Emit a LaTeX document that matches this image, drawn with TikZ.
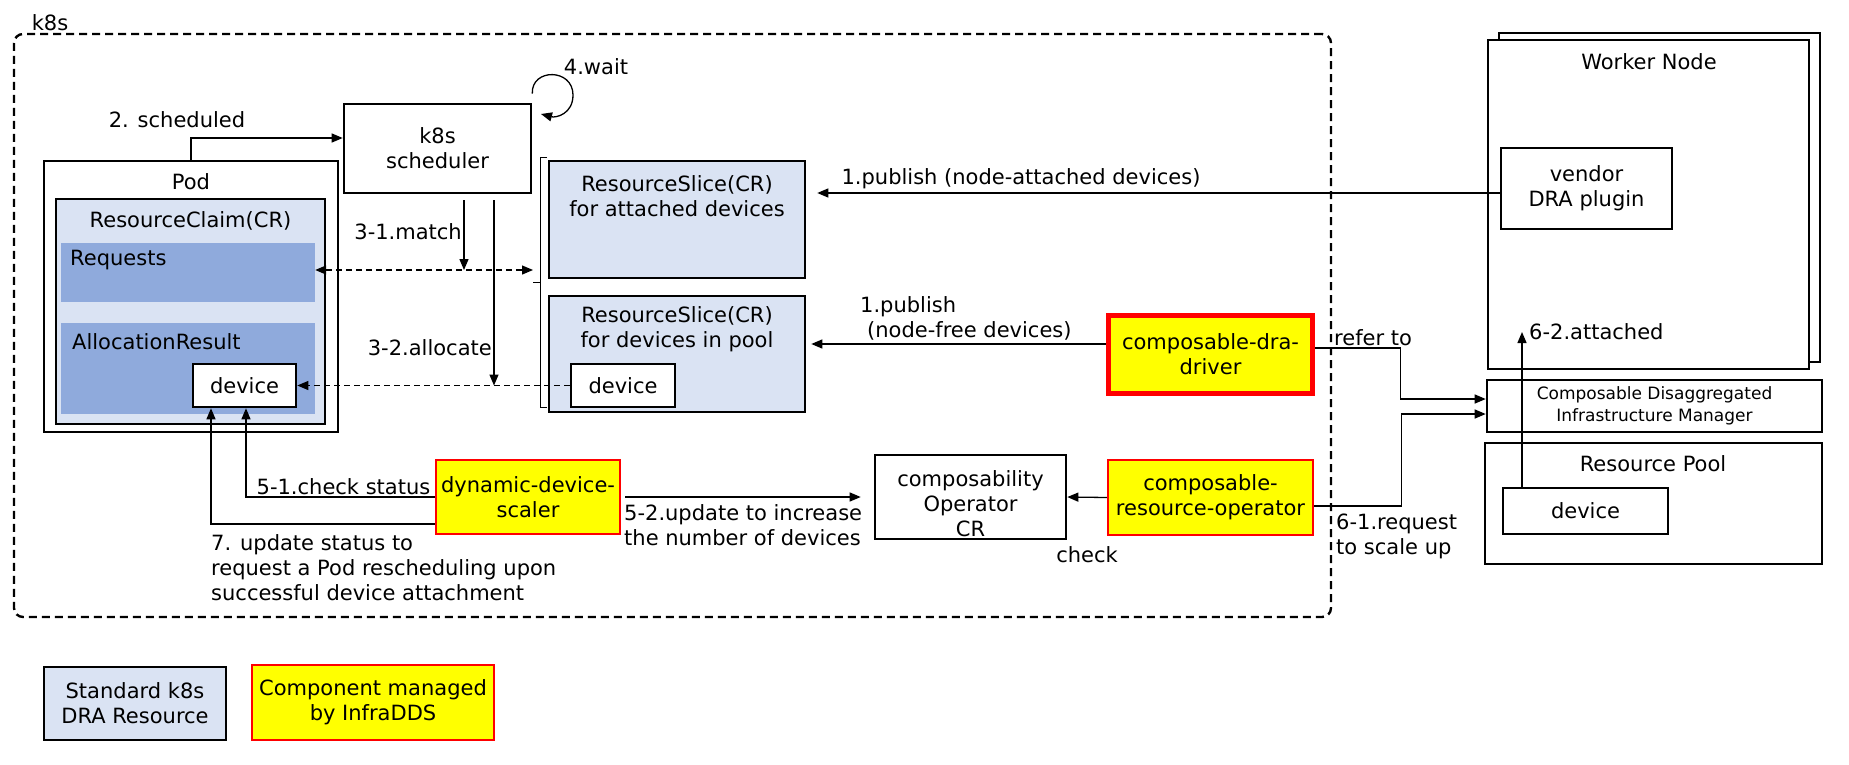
\documentclass[tikz,border=0pt]{standalone}
\usepackage{fontspec}
\setmainfont{DejaVu Sans}
\usetikzlibrary{arrows.meta}
\definecolor{drablue}{HTML}{DAE3F3}
\definecolor{reqblue}{HTML}{8FAADC}
\definecolor{ddsyellow}{HTML}{FFFF00}
\definecolor{ddsred}{HTML}{FF0000}
\tikzset{
  wh/.style 2 args={minimum width=#1pt, minimum height=#2pt},
  plainbox/.style={draw, line width=2.6pt, fill=white, inner sep=0pt, align=center},
  drabox/.style={plainbox, fill=drablue},
  innerbox/.style={fill=reqblue, inner sep=0pt},
  infrabox/.style={draw=ddsred, line width=2.4pt, fill=ddsyellow, inner sep=0pt, align=center},
  txt/.style={inner sep=0pt, align=left},
  arr/.style={line width=1.3pt, -{Triangle[length=11pt,width=9pt]}},
  dasharr/.style={line width=1.2pt, dash pattern=on 6pt off 4pt},
}

\begin{document}
\begin{tikzpicture}[x=1pt, y=-1pt, font=\fontsize{21}{25}\selectfont]
  \useasboundingbox (0,0) rectangle (1849,764);

  % k8s cluster
  \node[draw, dash pattern=on 8pt off 5pt, line width=2.4pt, rounded corners=9pt, wh={1317}{583}] (k8s) at (672.5,325.5) {};
  \node[txt] (k8slbl) at (50,23) {k8s};

  % Pod and its claim
  \node[plainbox, wh={294}{271}] (pod) at (191,296.5) {};
  \node[txt] (podlbl) at (191,182) {Pod};
  \node[drabox, wh={269}{225}] (claim) at (190.5,311.5) {};
  \node[txt] (claimlbl) at (190.5,221) {ResourceClaim(CR)};
  \node[innerbox, wh={254}{59}] (req) at (188,272.5) {};
  \node[txt, anchor=west] (reqlbl) at (70,260) {Requests};
  \node[innerbox, wh={254}{91}] (alloc) at (188,368.5) {};
  \node[txt, anchor=west] (alloclbl) at (72,342) {AllocationResult};
  \node[plainbox, wh={103}{43}] (adev) at (244.5,385.5) {device};

  % Scheduler
  \node[plainbox, wh={187}{89}] (sched) at (437.5,148.5) {k8s\\scheduler};

  % Resource slices
  \node[drabox, wh={256}{117}] (sliceA) at (677,219.5) {};
  \node[txt, align=center] (sliceAlbl) at (677,196) {ResourceSlice(CR)\\for attached devices};
  \node[drabox, wh={256}{116}] (sliceP) at (677,354) {};
  \node[txt, align=center] (slicePlbl) at (677,329) {ResourceSlice(CR)\\for devices in pool};
  \node[plainbox, wh={104}{43}] (pdev) at (623,385.5) {device};
  \draw[line width=1pt] (547,157) -- (540,157) -- (540,407) -- (547,407);
  \draw[line width=1pt] (540,282) -- (533,282);

  % InfraDDS components
  \node[infrabox, wh={184}{74}] (dds) at (528,497) {dynamic-device-\\scaler};
  \node[plainbox, wh={191}{84}] (cop) at (970.5,497) {};
  \node[txt, align=center] (coplbl) at (970.5,504) {composability\\Operator\\CR};
  \node[infrabox, line width=5.5pt, wh={204}{78}] (cdd) at (1210.5,354.5) {composable-dra-\\driver};
  \node[infrabox, wh={205}{75}] (cro) at (1210.5,497.5) {composable-\\resource-operator};

  % Worker node
  \node[plainbox, wh={321}{329}] (wnback) at (1659.5,197.5) {};
  \node[plainbox, wh={321}{329}] (wn) at (1648.5,204.5) {};
  \node[txt] (wnlbl) at (1649,62) {Worker Node};
  \node[plainbox, wh={171}{81}] (vendor) at (1586.5,188.5) {vendor\\DRA plugin};

  % Infrastructure
  \node[plainbox, wh={335}{52}, font=\fontsize{17}{22}\selectfont] (cdim) at (1654.5,406) {Composable Disaggregated\\Infrastructure Manager};
  \node[plainbox, wh={337}{121}] (rpool) at (1653.5,503.5) {};
  \node[txt] (rpoollbl) at (1653,464) {Resource Pool};
  \node[plainbox, wh={165}{46}] (rdev) at (1585.5,511) {device};

  % Legend
  \node[drabox, wh={182}{73}] (legstd) at (135,703.5) {Standard k8s\\DRA Resource};
  \node[infrabox, wh={242}{75}] (leginfra) at (373,702.5) {Component managed\\by InfraDDS};

  % 1. publish
  \draw[arr, shorten >=11pt] ([yshift=-4.5pt]vendor.west) -- ([yshift=-4.5pt]vendor.west -| sliceA.east);
  \node[txt] (pub1) at (1021,179) {1.publish (node-attached devices)};
  \draw[arr, shorten >=5pt] ([yshift=10.5pt]cdd.west) -- ([yshift=10.5pt]cdd.west -| sliceP.east);
  \node[txt, anchor=west] (pub2) at (860,318) {1.publish\\\hspace*{7pt}(node-free devices)};

  % 2. scheduled
  \draw[arr] (pod.north) |- ([yshift=10.5pt]sched.west);
  \node[txt] (sch2) at (177,120) {2. scheduled};

  % 3. match / allocate
  \coordinate (brk) at (533,270);
  \draw[arr] ([xshift=26.5pt,yshift=-6pt]sched.south) -- ([xshift=26.5pt]sched.south |- brk);
  \node[txt, anchor=east] (m31) at (462,232) {3-1.match};
  \draw[arr] ([xshift=56.5pt,yshift=-6pt]sched.south) -- ([xshift=56.5pt]sched.south |- adev.east);
  \node[txt, anchor=east] (a32) at (492,348) {3-2.allocate};
  \draw[dasharr, {Triangle[length=11pt,width=9pt]}-{Triangle[length=11pt,width=9pt]}] (req.east |- brk) -- (brk);
  \draw[dasharr, -{Triangle[length=11pt,width=9pt]}] (pdev.west) -- (adev.east);

  % 4. wait
  \draw[arr] ([yshift=9pt]sched.north east) .. controls (531,68) and (573,68) .. (573,95)
    .. controls (573,114) and (556,118) .. (541,114);
  \node[txt] (wait4) at (596,67) {4.wait};

  % 5. check / update
  \draw[arr] (dds.west) -| ([xshift=1.5pt]adev.south);
  \node[txt] (chk51) at (343.5,487) {5-1.check status};
  \draw[arr, shorten <=4pt, shorten >=13pt] (dds.east) -- (cop.west);
  \node[txt, anchor=west] (upd52) at (624,525.5) {5-2.update to increase\\the number of devices};
  \draw[arr] (cro.west) -- (cop.east);
  \node[txt] (chk) at (1087,555) {check};

  % 6. request / attached
  \draw[arr] ([yshift=6.5pt]cdd.east) -- ++(85,0) |- ([yshift=7pt]cdim.west);
  \node[txt, anchor=west] (refer) at (1334,338) {refer to};
  \draw[arr] ([yshift=-8.5pt]cro.east) -- ++(87,0) |- ([yshift=-8pt]cdim.west);
  \node[txt, anchor=west] (req61) at (1336,536) {6-1.request\\to scale up};
  \coordinate (att) at (1522,332);
  \draw[arr] (rdev.north -| att) -- (att);
  \node[txt, anchor=west] (att62) at (1529,332) {6-2.attached};

  % 7. update status
  \draw[arr] ([yshift=-27pt]dds.west) -| ([xshift=-33.5pt]adev.south);
  \node[txt, anchor=west] (upd7) at (211,568) {7. update status to\\request a Pod rescheduling upon\\successful device attachment};
\end{tikzpicture}
\end{document}
